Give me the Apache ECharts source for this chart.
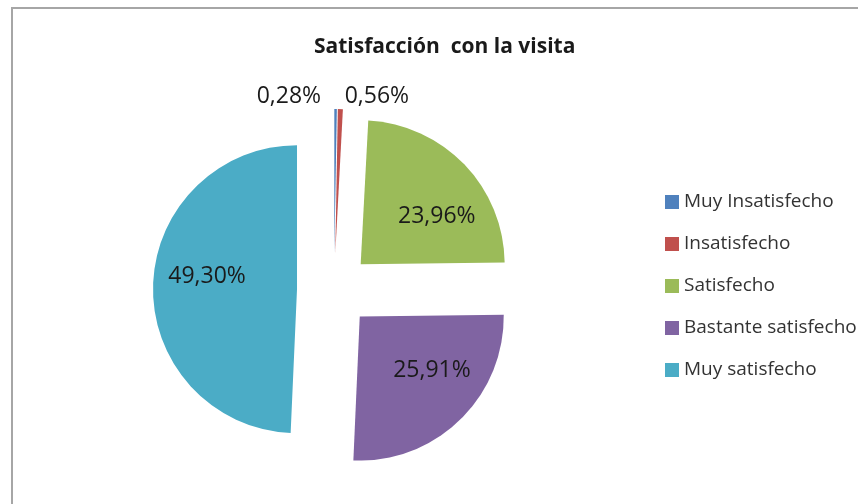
<!DOCTYPE html>
<html>
<head>
<meta charset="utf-8">
<script src="https://cdn.jsdelivr.net/npm/echarts@6/dist/echarts.min.js"></script>
<style>
html,body{margin:0;padding:0;background:#fff;}
#chart{width:858px;height:504px;}
</style>
</head>
<body>
<div id="chart"></div>
<script>
const categories = ['Muy Insatisfecho', 'Insatisfecho', 'Satisfecho', 'Bastante satisfecho', 'Muy satisfecho'];
const values = [0.28, 0.56, 23.96, 25.91, 49.30];
const labels = ['0,28%', '0,56%', '23,96%', '25,91%', '49,30%'];
const colors = ['#4f81bd', '#c0504d', '#9bbb59', '#8064a2', '#4bacc6'];
const titleText = 'Satisfacción  con la visita';

const FONT = 'Open Sans';
const labelNudge = [[-84, -3], [-1, -3], [22, 4], [20, 0], [-15, -11]];

const chart = echarts.init(document.getElementById('chart'));
chart.setOption({
  animation: false,
  color: colors,
  title: {
    text: titleText,
    left: 309,
    top: 32,
    textStyle: { fontFamily: FONT, fontSize: 21, fontWeight: 'bold', color: '#1a1a1a' }
  },
  legend: {
    orient: 'vertical',
    left: 660,
    top: 186,
    itemWidth: 14,
    itemHeight: 14,
    itemGap: 20,
    icon: 'rect',
    selectedMode: false,
    textStyle: { fontFamily: FONT, fontSize: 19, color: '#333333', lineHeight: 22 },
    data: categories
  },
  graphic: [{
    type: 'polyline',
    shape: { points: [[12, 510], [12, 8], [870, 8]] },
    style: { stroke: '#a6a6a6', lineWidth: 2, fill: null },
    silent: true
  }],
  series: [{
    type: 'pie',
    center: [334, 290],
    radius: 144,
    startAngle: 90,
    clockwise: true,
    selectedMode: 'multiple',
    selectedOffset: 37,
    avoidLabelOverlap: false,
    emphasis: { disabled: true },
    data: categories.map((c, i) => ({
      name: c,
      value: values[i],
      selected: true,
      label: i < 2 ? { position: 'outside' } : { position: 'inside' }
    })),
    label: {
      formatter: p => labels[p.dataIndex],
      fontFamily: FONT,
      fontSize: 23,
      color: '#1a1a1a'
    },
    labelLine: { show: false, length: 10, length2: 0 },
    labelLayout: p => ({ dx: labelNudge[p.dataIndex][0], dy: labelNudge[p.dataIndex][1] })
  }]
});
</script>
</body>
</html>
